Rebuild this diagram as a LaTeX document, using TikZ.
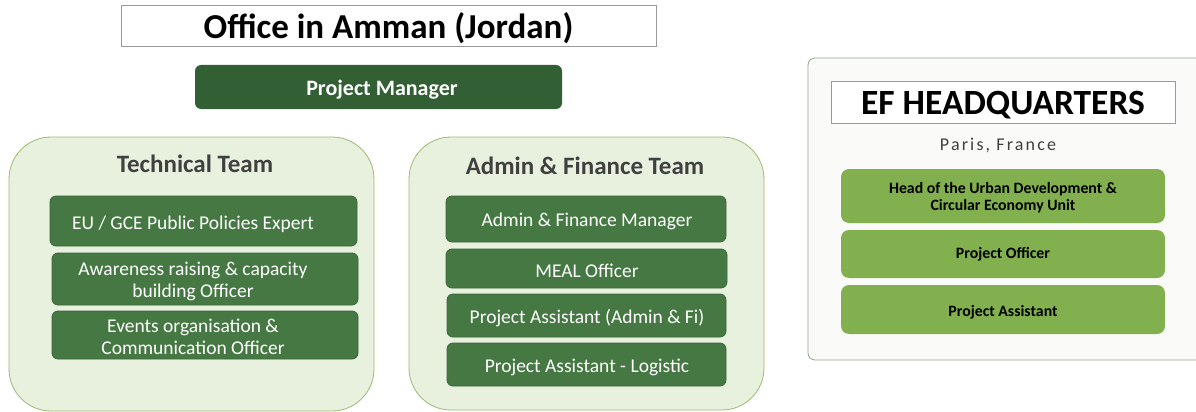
\documentclass[tikz,border=0pt]{standalone}
\usepackage{fontspec}
\setmainfont{Carlito}
\definecolor{pmgreen}{HTML}{335F35}
\definecolor{boxgreen}{HTML}{467843}
\definecolor{boxedge}{HTML}{3A6638}
\definecolor{contfill}{HTML}{E8F0DE}
\definecolor{contedge}{HTML}{9DBA72}
\definecolor{hqfill}{HTML}{FAFAF8}
\definecolor{hqedge}{HTML}{8FA88F}
\definecolor{hqbox}{HTML}{82B04E}
\definecolor{titlegray}{HTML}{404040}
\begin{document}
\begin{tikzpicture}[x=1pt,y=-1pt,
  every node/.style={yshift=-2pt},
  titlebox/.style={draw=gray!80,fill=white,line width=0.8pt},
  pmbox/.style={fill=pmgreen,rounded corners=6pt},
  teambox/.style={fill=contfill,draw=contedge,line width=0.8pt,rounded corners=42pt},
  rolebox/.style={fill=boxgreen,draw=boxedge,line width=0.8pt,rounded corners=6pt},
  hqcont/.style={fill=hqfill,draw=hqedge,line width=0.8pt,rounded corners=7pt},
  hqrole/.style={fill=hqbox,rounded corners=8pt},
  roletext/.style={text=white,font=\fontsize{19.5}{22}\selectfont,align=center},
  hqtext/.style={text=black,font=\bfseries\fontsize{15.8}{17}\selectfont,align=center}]
\useasboundingbox (0,0) rectangle (1196,412);
% title
\draw[titlebox] (121,5) rectangle (656,46);
\node (title) at (388.5,26) {\bfseries\fontsize{35}{38}\selectfont Office in Amman (Jordan)};
% project manager
\fill[pmbox] (195,65) rectangle (562,109);
\node[text=white] (pm) at (382,88) {\bfseries\fontsize{22}{25}\selectfont Project Manager};
% technical team
\draw[teambox] (9,137) rectangle (374,411);
\node[text=titlegray] (tt) at (195,162) {\bfseries\fontsize{25}{28}\selectfont Technical Team};
\draw[rolebox] (50,196) rectangle (357,246);
\node[roletext] (t1) at (193,222) {EU / GCE Public Policies Expert};
\draw[rolebox] (52,253) rectangle (358,305);
\node[roletext] (t2) at (193,279) {Awareness raising \& capacity\\building Officer};
\draw[rolebox] (52,311) rectangle (358,359);
\node[roletext] (t3) at (193,335) {Events organisation \&\\Communication Officer};
% admin team
\draw[teambox] (409,137) rectangle (764,410);
\node[text=titlegray] (at) at (585,164) {\bfseries\fontsize{25}{28}\selectfont Admin \& Finance Team};
\draw[rolebox] (446,196) rectangle (726,242);
\node[roletext] (a1) at (587,219) {Admin \& Finance Manager};
\draw[rolebox] (446,249) rectangle (727,288);
\node[roletext] (a2) at (587,269) {MEAL Officer};
\draw[rolebox] (447,294) rectangle (726,337);
\node[roletext] (a3) at (587,316) {Project Assistant (Admin \& Fi)};
\draw[rolebox] (447,343) rectangle (726,386);
\node[roletext] (a4) at (587,365) {Project Assistant - Logistic};
% HQ
\draw[hqcont] (808,58) rectangle (1204,360);
\draw[titlebox] (831,81) rectangle (1175,123);
\node (hq) at (1003,103) {\bfseries\fontsize{35.5}{38}\selectfont EF HEADQUARTERS};
\node[text=titlegray] (paris) at (998,143) {\addfontfeature{LetterSpace=12}\fontsize{18}{21}\selectfont Paris, France};
\fill[hqrole] (841,169) rectangle (1165,223);
\node[hqtext] (h1) at (1003,196) {Head of the Urban Development \&\\Circular Economy Unit};
\fill[hqrole] (841,230) rectangle (1165,278);
\node[hqtext] (h2) at (1003,252) {Project Officer};
\fill[hqrole] (841,285) rectangle (1165,334);
\node[hqtext] (h3) at (1003,310) {Project Assistant};
\end{tikzpicture}
\end{document}
